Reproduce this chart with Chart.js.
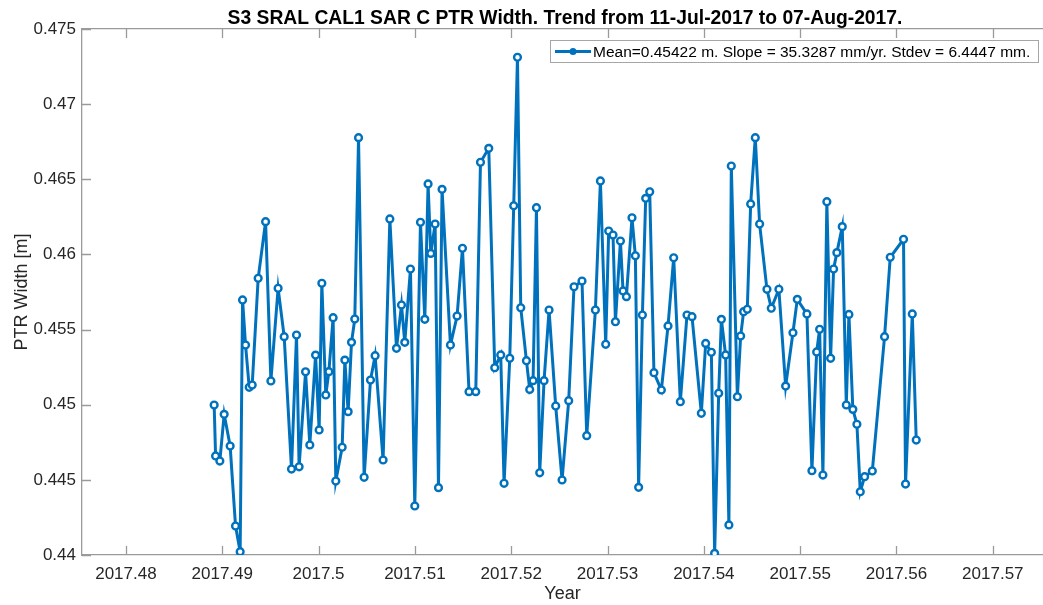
<!DOCTYPE html>
<html>
<head>
<meta charset="utf-8">
<title>S3 SRAL CAL1 SAR C PTR Width</title>
<script src="https://cdn.jsdelivr.net/npm/chart.js@4.4.1/dist/chart.umd.min.js"></script>
<style>
  html, body { margin: 0; padding: 0; background: #fff; }
  #wrap { width: 1043px; height: 605px; }
</style>
</head>
<body>
<div id="wrap"><canvas id="trendChart" width="1043" height="605"></canvas></div>
<script>
/* =======================
   DATA
======================= */
const titleText = 'S3 SRAL CAL1 SAR C PTR Width. Trend from 11-Jul-2017 to 07-Aug-2017.';
const legendText = 'Mean=0.45422 m. Slope = 35.3287 mm/yr. Stdev = 6.4447 mm.';

const years = [
  2017.48916, 2017.48931, 2017.48975, 2017.49020, 2017.49082, 2017.49138, 2017.49186, 2017.49211,
  2017.49242, 2017.49280, 2017.49311, 2017.49373, 2017.49450, 2017.49505, 2017.49580, 2017.49643,
  2017.49719, 2017.49771, 2017.49798, 2017.49865, 2017.49909, 2017.49969, 2017.50006, 2017.50034,
  2017.50075, 2017.50107, 2017.50151, 2017.50179, 2017.50245, 2017.50273, 2017.50307, 2017.50342,
  2017.50376, 2017.50415, 2017.50473, 2017.50539, 2017.50587, 2017.50670, 2017.50740, 2017.50809,
  2017.50861, 2017.50895, 2017.50954, 2017.50999, 2017.51058, 2017.51103, 2017.51137, 2017.51165,
  2017.51210, 2017.51245, 2017.51282, 2017.51369, 2017.51438, 2017.51494, 2017.51562, 2017.51632,
  2017.51681, 2017.51767, 2017.51829, 2017.51891, 2017.51926, 2017.51985, 2017.52026, 2017.52065,
  2017.52099, 2017.52158, 2017.52192, 2017.52227, 2017.52262, 2017.52296, 2017.52341, 2017.52393,
  2017.52462, 2017.52528, 2017.52597, 2017.52652, 2017.52735, 2017.52784, 2017.52874, 2017.52926,
  2017.52981, 2017.53012, 2017.53057, 2017.53082, 2017.53134, 2017.53161, 2017.53196, 2017.53254,
  2017.53289, 2017.53323, 2017.53362, 2017.53396, 2017.53438, 2017.53482, 2017.53559, 2017.53628,
  2017.53687, 2017.53756, 2017.53825, 2017.53877, 2017.53974, 2017.54019, 2017.54078, 2017.54112,
  2017.54154, 2017.54182, 2017.54226, 2017.54260, 2017.54285, 2017.54348, 2017.54382, 2017.54413,
  2017.54451, 2017.54486, 2017.54534, 2017.54579, 2017.54655, 2017.54700, 2017.54779, 2017.54849,
  2017.54925, 2017.54970, 2017.55070, 2017.55122, 2017.55171, 2017.55202, 2017.55236, 2017.55277,
  2017.55316, 2017.55347, 2017.55381, 2017.55437, 2017.55479, 2017.55506, 2017.55547, 2017.55589,
  2017.55624, 2017.55669, 2017.55749, 2017.55876, 2017.55935, 2017.56073, 2017.56094, 2017.56164,
  2017.56205
];

const ptrWidth = [
  0.44998, 0.44659, 0.44625, 0.44936, 0.44725, 0.44193, 0.44022, 0.45697,
  0.45397, 0.45116, 0.45131, 0.45841, 0.46218, 0.45158, 0.45775, 0.45453,
  0.44572, 0.45464, 0.44587, 0.45219, 0.44732, 0.45330, 0.44832, 0.45808,
  0.45065, 0.45220, 0.45579, 0.44492, 0.44717, 0.45297, 0.44954, 0.45415,
  0.45570, 0.46777, 0.44517, 0.45164, 0.45326, 0.44632, 0.46236, 0.45375,
  0.45663, 0.45415, 0.45903, 0.44326, 0.46214, 0.45568, 0.46469, 0.46007,
  0.46202, 0.44448, 0.46433, 0.45397, 0.45590, 0.46041, 0.45087, 0.45087,
  0.46613, 0.46706, 0.45246, 0.45331, 0.44477, 0.45309, 0.46324, 0.47312,
  0.45645, 0.45293, 0.45102, 0.45160, 0.46311, 0.44547, 0.45160, 0.45630,
  0.44991, 0.44499, 0.45027, 0.45785, 0.45823, 0.44794, 0.45630, 0.46489,
  0.45402, 0.46156, 0.46129, 0.45552, 0.46089, 0.45757, 0.45719, 0.46244,
  0.45991, 0.44450, 0.45597, 0.46373, 0.46417, 0.45213, 0.45098, 0.45524,
  0.45978, 0.45020, 0.45597, 0.45586, 0.44943, 0.45408, 0.45349, 0.44011,
  0.45076, 0.45568, 0.45331, 0.44200, 0.46588, 0.45053, 0.45457, 0.45619,
  0.45635, 0.46336, 0.46777, 0.46202, 0.45768, 0.45642, 0.45768, 0.45124,
  0.45479, 0.45701, 0.45604, 0.44561, 0.45351, 0.45502, 0.44532, 0.46351,
  0.45309, 0.45903, 0.46012, 0.46185, 0.44998, 0.45601, 0.44969, 0.44870,
  0.44421, 0.44521, 0.44559, 0.45453, 0.45981, 0.46101, 0.44472, 0.45604,
  0.44765
];

const xTicks = [2017.48, 2017.49, 2017.50, 2017.51, 2017.52, 2017.53, 2017.54, 2017.55, 2017.56, 2017.57];
const xTickLabels = ['2017.48', '2017.49', '2017.5', '2017.51', '2017.52', '2017.53', '2017.54', '2017.55', '2017.56', '2017.57'];
const yTicks = [0.44, 0.445, 0.45, 0.455, 0.46, 0.465, 0.47, 0.475];
const yTickLabels = ['0.44', '0.445', '0.45', '0.455', '0.46', '0.465', '0.47', '0.475'];

const xMin = 2017.47544, xMax = 2017.57521;
const yMin = 0.44, yMax = 0.475;

/* =======================
   STYLE
======================= */
const FONT = "'Liberation Sans', Arial, Helvetica, sans-serif";
const BLUE = '#0072BD';
const AXIS = '#9a9a9a';
const TEXT = '#262626';

// keep the plot box flush with the canvas edges we chose
const noPad = s => { s.paddingLeft = 0; s.paddingRight = 0; };

/* =======================
   PLUGINS (inward ticks, title, legend box)
======================= */
const matlabAxes = {
  id: 'matlabAxes',
  beforeDatasetsDraw(chart) {
    const { ctx, chartArea: a, scales } = chart;
    const len = 9;
    ctx.save();
    ctx.strokeStyle = AXIS;
    ctx.lineWidth = 1.3;
    ctx.beginPath();
    xTicks.forEach(v => {
      const px = Math.round(scales.x.getPixelForValue(v)) + 0.5;
      ctx.moveTo(px, a.bottom); ctx.lineTo(px, a.bottom - len);
      ctx.moveTo(px, a.top); ctx.lineTo(px, a.top + len);
    });
    yTicks.forEach(v => {
      const py = Math.round(scales.y.getPixelForValue(v)) + 0.5;
      ctx.moveTo(a.left, py); ctx.lineTo(a.left + len, py);
    });
    ctx.stroke();
    ctx.restore();
  },
  afterDraw(chart) {
    const { ctx } = chart;
    ctx.save();

    // title
    ctx.fillStyle = '#000';
    ctx.font = 'bold 19.3px ' + FONT;
    ctx.textAlign = 'center';
    ctx.textBaseline = 'alphabetic';
    ctx.fillText(titleText, 565, 24);

    // legend
    const bx = 550.5, by = 40.5, bw = 488, bh = 22;
    ctx.fillStyle = '#fff';
    ctx.fillRect(bx, by, bw, bh);
    ctx.strokeStyle = '#a6a6a6';
    ctx.lineWidth = 1;
    ctx.strokeRect(bx, by, bw, bh);

    const ly = by + bh / 2;
    ctx.strokeStyle = BLUE;
    ctx.lineWidth = 3;
    ctx.beginPath();
    ctx.moveTo(555, ly); ctx.lineTo(591, ly);
    ctx.stroke();
    ctx.beginPath();
    ctx.arc(573, ly, 3.5, 0, Math.PI * 2);
    ctx.fillStyle = BLUE;
    ctx.fill();

    ctx.fillStyle = '#000';
    ctx.font = '15.5px ' + FONT;
    ctx.textAlign = 'left';
    ctx.textBaseline = 'middle';
    ctx.fillText(chart.data.datasets[0].label, 593, ly + 1);
    ctx.restore();
  }
};

/* =======================
   CHART
======================= */
new Chart(document.getElementById('trendChart'), {
  type: 'line',
  data: {
    datasets: [{
      label: legendText,
      data: years.map((x, i) => ({ x, y: ptrWidth[i] })),
      borderColor: BLUE,
      borderWidth: 3,
      pointRadius: 3.4,
      pointBorderWidth: 2.4,
      pointBackgroundColor: '#fff',
      pointBorderColor: BLUE,
      tension: 0,
      fill: false
    }]
  },
  options: {
    responsive: false,
    animation: false,
    devicePixelRatio: 1,
    layout: { padding: 0, autoPadding: false },
    plugins: {
      legend: { display: false },
      title: { display: false },
      tooltip: { enabled: false }
    },
    scales: {
      x: {
        type: 'linear',
        position: 'bottom',
        min: xMin,
        max: xMax,
        afterBuildTicks: s => { s.ticks = xTicks.map(v => ({ value: v })); },
        afterFit: s => { s.height = 50; noPad(s); },
        grid: { display: false, drawTicks: false },
        border: { display: true, color: AXIS, width: 1.3 },
        ticks: {
          padding: 9,
          color: TEXT,
          font: { family: FONT, size: 17 },
          maxRotation: 0,
          autoSkip: false,
          callback: (v, i) => xTickLabels[i]
        },
        title: {
          display: true,
          text: 'Year',
          color: TEXT,
          font: { family: FONT, size: 18 },
          padding: { top: 0, bottom: 0 }
        }
      },
      x2: {
        type: 'linear',
        axis: 'x',
        position: 'top',
        min: xMin,
        max: xMax,
        afterFit: s => { s.height = 29; noPad(s); },
        grid: { display: false, drawTicks: false },
        border: { display: true, color: AXIS, width: 1.3 },
        ticks: { display: false }
      },
      y: {
        type: 'linear',
        position: 'left',
        min: yMin,
        max: yMax,
        afterBuildTicks: s => { s.ticks = yTicks.map(v => ({ value: v })); },
        afterFit: s => { s.width = 82; },
        grid: { display: false, drawTicks: false },
        border: { display: true, color: AXIS, width: 1.3 },
        ticks: {
          padding: 6,
          color: TEXT,
          font: { family: FONT, size: 17 },
          autoSkip: false,
          callback: (v, i) => yTickLabels[i]
        },
        title: {
          display: true,
          text: 'PTR Width [m]',
          color: TEXT,
          font: { family: FONT, size: 18 },
          padding: { top: 11, bottom: 0 }
        }
      }
    }
  },
  plugins: [matlabAxes]
});
</script>
</body>
</html>
